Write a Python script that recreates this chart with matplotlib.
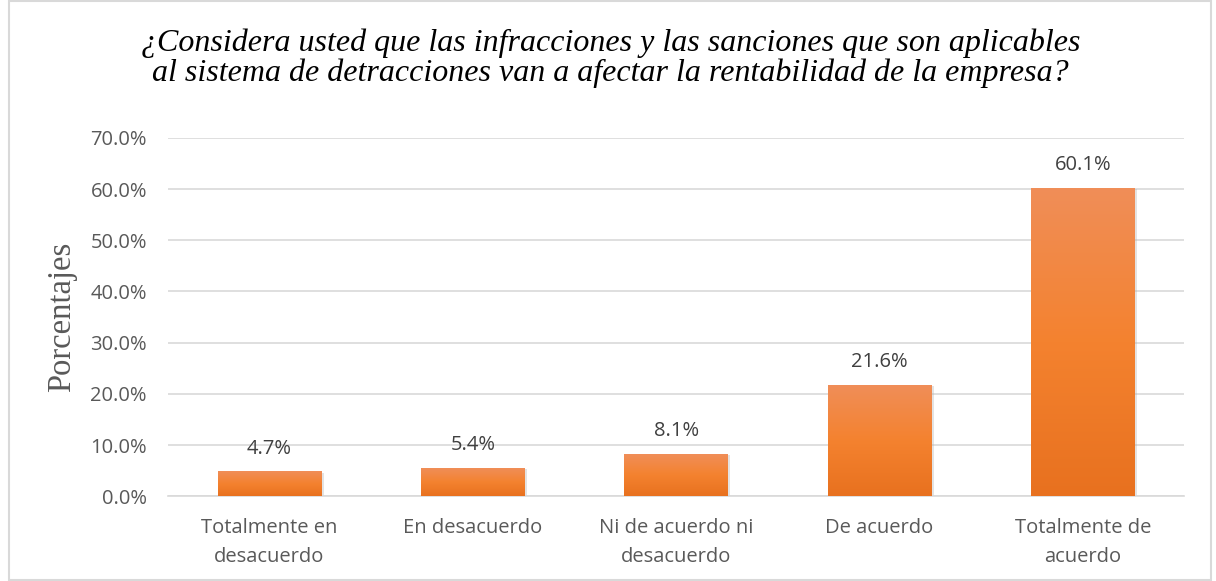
"""bar chart: opinion on infracciones y sanciones del sistema de detracciones"""

import matplotlib
matplotlib.use("Agg")
import matplotlib.pyplot as plt
import numpy as np
from matplotlib.colors import LinearSegmentedColormap
from matplotlib.patches import Rectangle

categories = ["Totalmente en\ndesacuerdo", "En desacuerdo",
              "Ni de acuerdo ni\ndesacuerdo", "De acuerdo",
              "Totalmente de\nacuerdo"]
values = [4.7, 5.4, 8.1, 21.6, 60.1]
yticks = [0, 10, 20, 30, 40, 50, 60, 70]
title = ("¿Considera usted que las infracciones y las sanciones que son aplicables\n"
         "al sistema de detracciones van a afectar la rentabilidad de la empresa?")

fig = plt.figure(figsize=(12.16, 5.81), dpi=100)
ax = fig.add_axes([0.138, 0.146, 0.836, 0.6165])

tick_font = {"family": ["Open Sans", "DejaVu Sans"], "size": 14.5}
gray = "#595959"

x = np.arange(len(categories))
width = 0.51
bars = ax.bar(x, values, width=width, color="none", zorder=3)

# gradient fill, lighter on top like the office style
cmap = LinearSegmentedColormap.from_list("org", ["#E8711F", "#F4822F", "#F08E58"])
grad = np.linspace(0, 1, 256).reshape(-1, 1)
for b in bars:
    x0, h = b.get_x(), b.get_height()
    ax.add_patch(Rectangle((x0 + 0.012, -0.15), width, h, color="#b0b0b0",
                           alpha=0.35, zorder=2, lw=0))
    ax.imshow(grad, cmap=cmap, origin="lower", aspect="auto",
              extent=(x0, x0 + width, 0, h), zorder=3)

for xi, v in zip(x, values):
    ax.text(xi, v + 2.6, f"{v:.1f}%", ha="center", va="bottom",
            color="#404040", fontdict=tick_font)

ax.set_xlim(-0.5, len(categories) - 0.5)
ax.set_ylim(0, 70)
ax.set_yticks(yticks)
ax.set_yticklabels([f"{t:.1f}%" for t in yticks], fontdict=tick_font, color=gray)
ax.set_xticks(x)
ax.set_xticklabels(categories, fontdict=tick_font, color=gray, linespacing=1.6)
ax.tick_params(axis="both", length=0)
ax.tick_params(axis="x", pad=16)
ax.tick_params(axis="y", pad=15)
ax.grid(axis="y", color="#D9D9D9", lw=1.2, zorder=0)
for s in ["top", "right", "left"]:
    ax.spines[s].set_visible(False)
ax.spines["bottom"].set_color("#D9D9D9")
ax.spines["bottom"].set_linewidth(1.2)

ax.set_ylabel("Porcentajes", family="Liberation Serif", size=23.5, color=gray)
ax.yaxis.set_label_coords(-0.089, 0.5)

fig.text(0.502, 0.9, title, ha="center", va="center", style="italic",
         family="Liberation Serif", size=23, linespacing=1.0)

fig.patches.append(Rectangle((0.007, 0.002), 0.989, 0.996, transform=fig.transFigure,
                             fill=False, ec="#D9D9D9", lw=1.5))

fig.savefig("out.png", dpi=100)
plt.close(fig)
